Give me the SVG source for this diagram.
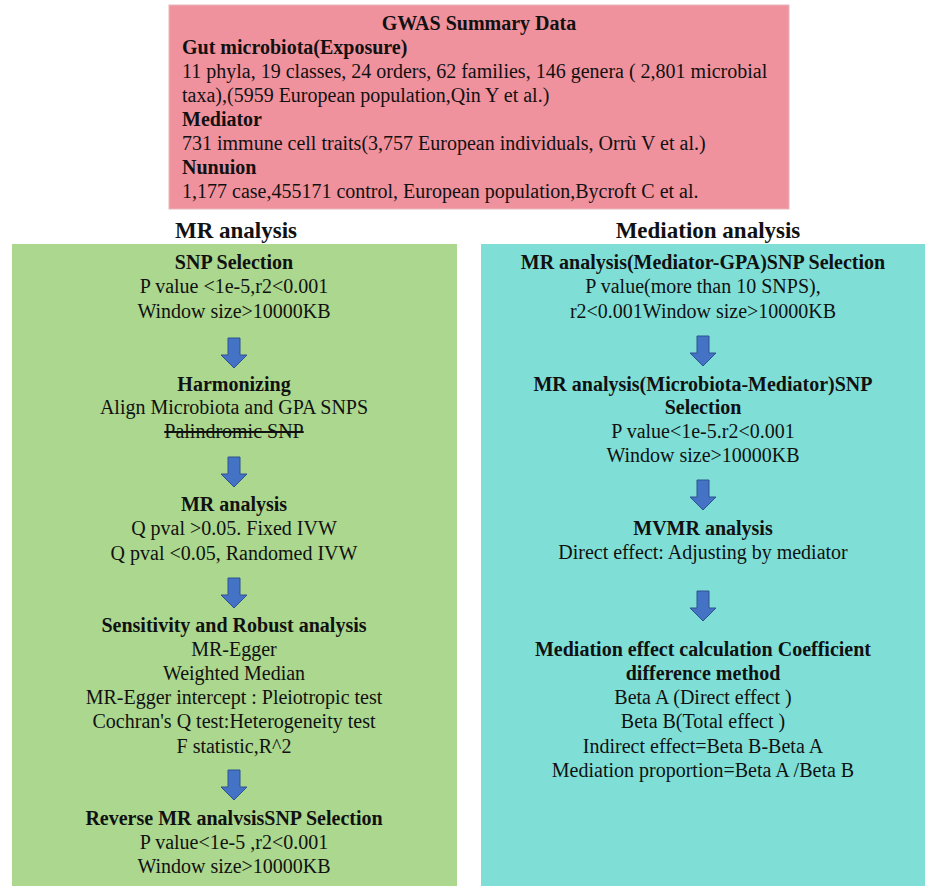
<svg xmlns="http://www.w3.org/2000/svg" width="935" height="896" viewBox="0 0 935 896">
<defs>
<style>
text{font-family:"Liberation Serif","Times New Roman",serif;font-size:20px;fill:#111}
.b{font-weight:bold}
.h{font-weight:bold;font-size:23px}
.c{text-anchor:middle}
.arrow{fill:#4472C4;stroke:#2F528F;stroke-width:1}
</style>
<path id="arr" d="M-6,0 h12 v17 h7 l-13,13 l-13,-13 h7 z"/>
</defs>
<rect width="935" height="896" fill="#fff"/>

<g id="gwas">
<rect x="169" y="5" width="620" height="204" fill="#F0929E" stroke="#e7b5bb" stroke-width="1"/>
<text class="b c" x="479" y="30">GWAS Summary Data</text>
<text class="b" x="182" y="54">Gut microbiota(Exposure)</text>
<text x="182" y="78">11 phyla, 19 classes, 24 orders, 62 families, 146 genera ( 2,801 microbial</text>
<text x="182" y="102">taxa),(5959 European population,Qin Y et al.)</text>
<text class="b" x="182" y="126">Mediator</text>
<text x="182" y="150">731 immune cell traits(3,757 European individuals, Orrù V et al.)</text>
<text class="b" x="182" y="174">Nunuion</text>
<text x="182" y="198">1,177 case,455171 control, European population,Bycroft C et al.</text>
</g>

<g id="mr-title"><text class="h c" x="236" y="238">MR analysis</text></g>
<g id="med-title"><text class="h c" x="708" y="238">Mediation analysis</text></g>

<g id="mr-panel">
<rect x="12" y="244" width="445" height="642" fill="#ABD78E"/>
</g>
<g id="med-panel">
<rect x="481" y="244" width="444" height="642" fill="#7FDFD7"/>
</g>

<g id="mr-snp">
<text class="b c" x="234" y="269">SNP Selection</text>
<text class="c" x="234" y="293">P value &lt;1e-5,r2&lt;0.001</text>
<text class="c" x="234" y="318">Window size&gt;10000KB</text>
</g>
<g id="mr-harm">
<text class="b c" x="234" y="391">Harmonizing</text>
<text class="c" x="234" y="414">Align Microbiota and GPA SNPS</text>
<text class="c" x="234" y="438" style="text-decoration:line-through">Palindromic SNP</text>
</g>
<g id="mr-mr">
<text class="b c" x="234" y="511">MR analysis</text>
<text class="c" x="234" y="535">Q pval &gt;0.05. Fixed IVW</text>
<text class="c" x="234" y="560">Q pval &lt;0.05, Randomed IVW</text>
</g>
<g id="mr-sens">
<text class="b c" x="234" y="632">Sensitivity and Robust analysis</text>
<text class="c" x="234" y="656">MR-Egger</text>
<text class="c" x="234" y="680">Weighted Median</text>
<text class="c" x="234" y="704">MR-Egger intercept : Pleiotropic test</text>
<text class="c" x="234" y="728">Cochran's Q test:Heterogeneity test</text>
<text class="c" x="234" y="753">F statistic,R^2</text>
</g>
<g id="mr-rev">
<text class="b c" x="234" y="825">Reverse MR analvsisSNP Selection</text>
<text class="c" x="234" y="849">P value&lt;1e-5 ,r2&lt;0.001</text>
<text class="c" x="234" y="873">Window size&gt;10000KB</text>
</g>

<g id="med-gpa">
<text class="b c" x="703" y="269">MR analysis(Mediator-GPA)SNP Selection</text>
<text class="c" x="703" y="293">P value(more than 10 SNPS),</text>
<text class="c" x="703" y="318">r2&lt;0.001Window size&gt;10000KB</text>
</g>
<g id="med-mic">
<text class="b c" x="703" y="391">MR analysis(Microbiota-Mediator)SNP</text>
<text class="b c" x="703" y="414">Selection</text>
<text class="c" x="703" y="438">P value&lt;1e-5.r2&lt;0.001</text>
<text class="c" x="703" y="462">Window size&gt;10000KB</text>
</g>
<g id="med-mvmr">
<text class="b c" x="703" y="535">MVMR analysis</text>
<text class="c" x="703" y="559">Direct effect: Adjusting by mediator</text>
</g>
<g id="med-calc">
<text class="b c" x="703" y="656">Mediation effect calculation Coefficient</text>
<text class="b c" x="703" y="680">difference method</text>
<text class="c" x="703" y="704">Beta A (Direct effect )</text>
<text class="c" x="703" y="728">Beta B(Total effect )</text>
<text class="c" x="703" y="753">Indirect effect=Beta B-Beta A</text>
<text class="c" x="703" y="777">Mediation proportion=Beta A /Beta B</text>
</g>

<g id="connectors">
<use href="#arr" class="arrow" x="234" y="338"/>
<use href="#arr" class="arrow" x="234" y="457"/>
<use href="#arr" class="arrow" x="234" y="578"/>
<use href="#arr" class="arrow" x="234" y="770"/>
<use href="#arr" class="arrow" x="703" y="336"/>
<use href="#arr" class="arrow" x="703" y="480"/>
<use href="#arr" class="arrow" x="703" y="591"/>
</g>
</svg>
